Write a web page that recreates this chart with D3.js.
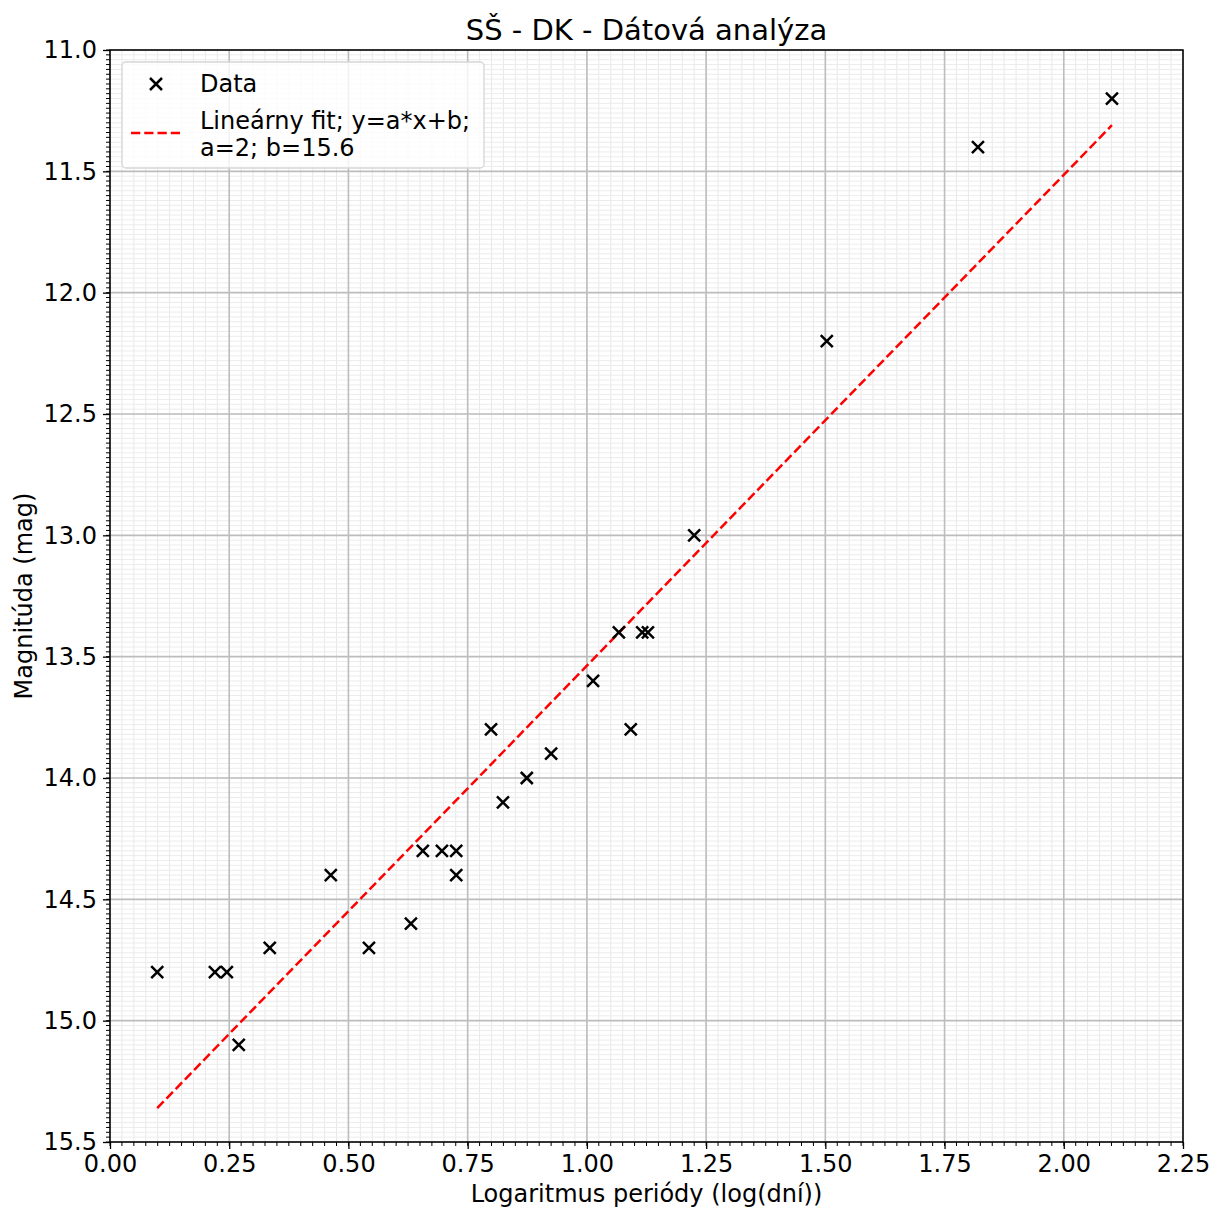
<!DOCTYPE html>
<html>
<head>
<meta charset="utf-8">
<script src="https://cdn.jsdelivr.net/npm/d3@7"></script>
<style>
  body { margin: 0; background: #fff; }
  text { font-family: "DejaVu Sans", sans-serif; fill: #000; }
</style>
</head>
<body>
<div id="chart"></div>
<script>
// data
var logPeriod = [0.099, 0.22, 0.245, 0.27, 0.335, 0.463, 0.543, 0.631, 0.656, 0.696,
                 0.726, 0.726, 0.799, 0.824, 0.874, 0.925, 1.013, 1.067, 1.092, 1.116,
                 1.128, 1.225, 1.503, 1.820, 2.101];
var magnitude = [14.8, 14.8, 14.8, 15.1, 14.7, 14.4, 14.7, 14.6, 14.3, 14.3,
                 14.3, 14.4, 13.8, 14.1, 14.0, 13.9, 13.6, 13.4, 13.8, 13.4,
                 13.4, 13.0, 12.2, 11.4, 11.2];
// fitted line end points
var fitX = [0.099, 2.101];
var fitY = [15.36, 11.31];

var xTicks = [0, 0.25, 0.5, 0.75, 1.0, 1.25, 1.5, 1.75, 2.0, 2.25];
var yTicks = [11.0, 11.5, 12.0, 12.5, 13.0, 13.5, 14.0, 14.5, 15.0, 15.5];

var W = 1210, H = 1209;
var m = {top: 50, right: 27, bottom: 67, left: 110};
var w = W - m.left - m.right;
var h = H - m.top - m.bottom;

var svg = d3.select("#chart").append("svg")
            .attr("width", W).attr("height", H);

var x = d3.scaleLinear().domain([0, 2.25]).range([0, w]);
var y = d3.scaleLinear().domain([11.0, 15.5]).range([0, h]);

var g = svg.append("g").attr("transform", "translate(" + m.left + "," + m.top + ")");

// minor ticks
var xMinor = d3.range(0, 91).map(function(i){ return i * 0.025; });
var yMinor = d3.range(0, 226).map(function(i){ return 11 + i * 0.02; });

// minor grid
g.append("g").selectAll("line").data(xMinor).enter().append("line")
 .attr("x1", function(d){ return x(d); }).attr("x2", function(d){ return x(d); })
 .attr("y1", 0).attr("y2", h)
 .attr("stroke", "#e8e8e8").attr("stroke-width", 1);
g.append("g").selectAll("line").data(yMinor).enter().append("line")
 .attr("y1", function(d){ return y(d); }).attr("y2", function(d){ return y(d); })
 .attr("x1", 0).attr("x2", w)
 .attr("stroke", "#ececec").attr("stroke-width", 1);

// major grid
g.append("g").selectAll("line").data(xTicks).enter().append("line")
 .attr("x1", function(d){ return x(d); }).attr("x2", function(d){ return x(d); })
 .attr("y1", 0).attr("y2", h)
 .attr("stroke", "#bdbdbd").attr("stroke-width", 1.6);
g.append("g").selectAll("line").data(yTicks).enter().append("line")
 .attr("y1", function(d){ return y(d); }).attr("y2", function(d){ return y(d); })
 .attr("x1", 0).attr("x2", w)
 .attr("stroke", "#bdbdbd").attr("stroke-width", 1.6);

// axes
var xAxis = d3.axisBottom(x).tickValues(xTicks).tickFormat(d3.format(".2f"))
              .tickSize(7).tickPadding(6);
var yAxis = d3.axisLeft(y).tickValues(yTicks).tickFormat(d3.format(".1f"))
              .tickSize(7).tickPadding(6);

var xa = g.append("g").attr("transform", "translate(0," + h + ")").call(xAxis);
var ya = g.append("g").call(yAxis);
[xa, ya].forEach(function(a){
  a.select(".domain").remove();
  a.selectAll("line").attr("stroke", "#000").attr("stroke-width", 1.3);
  a.selectAll("text").style("font-size", "24px").style("font-family", "DejaVu Sans");
});

// minor tick marks
g.append("g").selectAll("line").data(xMinor).enter().append("line")
 .attr("x1", function(d){ return x(d); }).attr("x2", function(d){ return x(d); })
 .attr("y1", h).attr("y2", h + 4)
 .attr("stroke", "#000").attr("stroke-width", 1);
g.append("g").selectAll("line").data(yMinor).enter().append("line")
 .attr("y1", function(d){ return y(d); }).attr("y2", function(d){ return y(d); })
 .attr("x1", -4).attr("x2", 0)
 .attr("stroke", "#000").attr("stroke-width", 1);

// fit line
var line = d3.line().x(function(d){ return x(d[0]); }).y(function(d){ return y(d[1]); });
g.append("path")
 .datum(fitX.map(function(v, i){ return [v, fitY[i]]; }))
 .attr("d", line)
 .attr("fill", "none").attr("stroke", "#ff0000").attr("stroke-width", 2.5)
 .attr("stroke-dasharray", "9.25,4");

// data markers
var s = 6;
function cross(cx, cy) {
  return "M" + (cx - s) + "," + (cy - s) + "L" + (cx + s) + "," + (cy + s) +
         "M" + (cx - s) + "," + (cy + s) + "L" + (cx + s) + "," + (cy - s);
}
g.append("g").selectAll("path")
 .data(logPeriod.map(function(v, i){ return [v, magnitude[i]]; }))
 .enter().append("path")
 .attr("d", function(d){ return cross(x(d[0]), y(d[1])); })
 .attr("stroke", "#000").attr("stroke-width", 2.5).attr("fill", "none");

// frame
g.append("rect").attr("x", 0).attr("y", 0).attr("width", w).attr("height", h)
 .attr("fill", "none").attr("stroke", "#000").attr("stroke-width", 1.5);

// legend
var lg = g.append("g").attr("transform", "translate(12,12)");
lg.append("rect").attr("x", 0).attr("y", 0).attr("width", 362).attr("height", 106)
  .attr("rx", 4).attr("fill", "#fff").attr("fill-opacity", 0.8)
  .attr("stroke", "#d6d6d6").attr("stroke-width", 1.3);
lg.append("path").attr("d", cross(34, 22))
  .attr("stroke", "#000").attr("stroke-width", 2.5);
lg.append("text").attr("x", 78).attr("y", 30).style("font-size", "24px").text("Data");
lg.append("line").attr("x1", 9).attr("x2", 59).attr("y1", 71).attr("y2", 71)
  .attr("stroke", "#ff0000").attr("stroke-width", 2.5).attr("stroke-dasharray", "9.25,4");
lg.append("text").attr("x", 78).attr("y", 67).style("font-size", "24px").text("Lineárny fit; y=a*x+b;");
lg.append("text").attr("x", 78).attr("y", 94).style("font-size", "24px").text("a=2; b=15.6");

// title
svg.append("text").attr("x", m.left + w / 2).attr("y", 40)
   .attr("text-anchor", "middle").style("font-size", "29px")
   .text("SŠ - DK - Dátová analýza");

// axis labels
svg.append("text").attr("x", m.left + w / 2).attr("y", 1202)
   .attr("text-anchor", "middle").style("font-size", "24px")
   .text("Logaritmus periódy (log(dní))");
svg.append("text")
   .attr("transform", "translate(32," + (m.top + h / 2) + ") rotate(-90)")
   .attr("text-anchor", "middle").style("font-size", "24px")
   .text("Magnitúda (mag)");
</script>
</body>
</html>
